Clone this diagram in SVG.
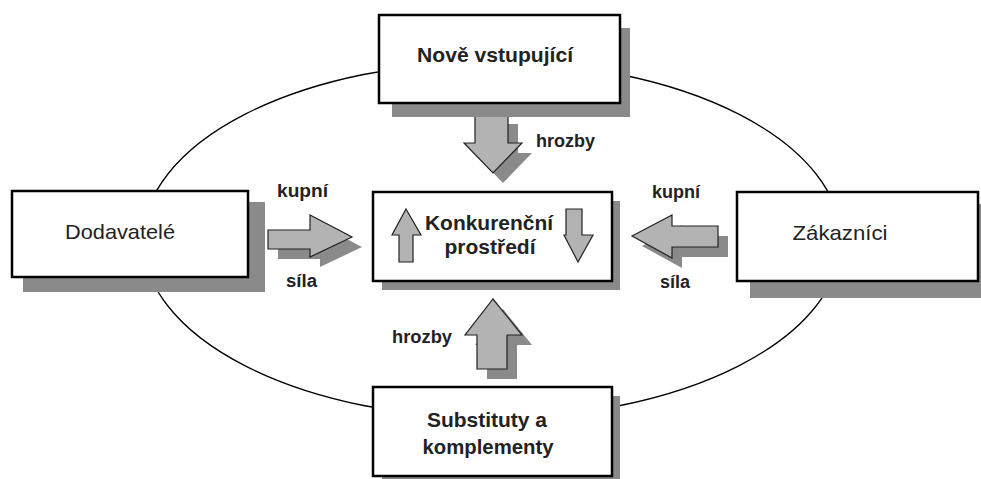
<svg xmlns="http://www.w3.org/2000/svg" width="981" height="479" viewBox="0 0 981 479">
<style>
.box{fill:#fff;stroke:#000;stroke-width:2.5}
.sh{fill:#8a8a8a}
.ar{fill:#b3b3b3;stroke:#222;stroke-width:1.2;stroke-linejoin:miter}
.as{fill:#8a8a8a}
.t{font-family:"Liberation Sans",Arial,sans-serif;fill:#222;text-anchor:middle;font-size:21px}
.b{font-weight:bold}
.lb{font-family:"Liberation Sans",Arial,sans-serif;font-weight:bold;fill:#222;font-size:18px}
</style>
<rect width="981" height="479" fill="#fff"/>
<g id="connectors">
<ellipse cx="492" cy="240" rx="349" ry="178" fill="none" stroke="#000" stroke-width="1.3"/>
<g id="arrow-top">
<polygon class="as" points="484,124 518,124 518,153 532,153 503,183 474,153 484,153"/>
<polygon class="ar" points="475,114 508,114 508,143 522,143 493,173 464,143 475,143"/>
</g>
<g id="arrow-bottom">
<polygon class="as" points="503,309 532,345 517,345 517,379 487,379 487,345 475,345"/>
<polygon class="ar" points="493,299 522,335 507,335 507,369 477,369 477,335 465,335"/>
</g>
<g id="arrow-left">
<polygon class="as" points="278,240 320,240 320,225 362,247 320,267 320,259 278,259"/>
<polygon class="ar" points="268,230 310,230 310,215 352,237 310,257 310,249 268,249"/>
</g>
<g id="arrow-right">
<polygon class="as" points="642,246 682,225 682,236 728,236 728,257 682,257 682,268"/>
<polygon class="ar" points="632,236 672,215 672,226 718,226 718,247 672,247 672,258"/>
</g>
</g>
<g id="node-top">
<rect class="sh" x="392" y="28" width="238" height="89"/>
<rect class="box" x="379" y="15" width="241" height="88"/>
<text class="t b" x="495" y="62" textLength="156" lengthAdjust="spacingAndGlyphs">Nově vstupující</text>
</g>
<g id="node-left">
<rect class="sh" x="23" y="202" width="242" height="90"/>
<rect class="box" x="12" y="191" width="236" height="86"/>
<text class="t" x="120" y="239" textLength="110" lengthAdjust="spacingAndGlyphs">Dodavatelé</text>
</g>
<g id="node-right">
<rect class="sh" x="750" y="204" width="240" height="94"/>
<rect class="box" x="737" y="192" width="241" height="89"/>
<text class="t" x="840" y="240" textLength="95" lengthAdjust="spacingAndGlyphs">Zákazníci</text>
</g>
<g id="node-center">
<rect class="sh" x="382" y="201" width="238" height="89"/>
<rect class="box" x="373" y="192" width="239" height="89"/>
<text class="t b" x="489" y="230" textLength="128" lengthAdjust="spacingAndGlyphs">Konkurenční</text>
<text class="t b" x="490" y="254" textLength="91" lengthAdjust="spacingAndGlyphs">prostředí</text>
<polygon class="ar" points="406,209 421,235 413,235 413,262 399,262 399,235 392,235"/>
<polygon class="ar" points="566,209 582,209 582,235 593,235 578,262 564,235 566,235"/>
</g>
<g id="node-bottom">
<rect class="sh" x="382" y="396" width="238" height="90"/>
<rect class="box" x="373" y="387" width="239" height="89"/>
<text class="t b" x="487" y="427" textLength="120" lengthAdjust="spacingAndGlyphs">Substituty a</text>
<text class="t b" x="488" y="454" textLength="131" lengthAdjust="spacingAndGlyphs">komplementy</text>
</g>
<g id="labels">
<text class="lb" x="536" y="147" textLength="59" lengthAdjust="spacingAndGlyphs">hrozby</text>
<text class="lb" x="392" y="343" textLength="60" lengthAdjust="spacingAndGlyphs">hrozby</text>
<text class="lb" x="277" y="197" textLength="51" lengthAdjust="spacingAndGlyphs">kupní</text>
<text class="lb" x="286" y="287" textLength="31" lengthAdjust="spacingAndGlyphs">síla</text>
<text class="lb" x="652" y="198" textLength="48" lengthAdjust="spacingAndGlyphs">kupní</text>
<text class="lb" x="660" y="288" textLength="30" lengthAdjust="spacingAndGlyphs">síla</text>
</g>
</svg>
